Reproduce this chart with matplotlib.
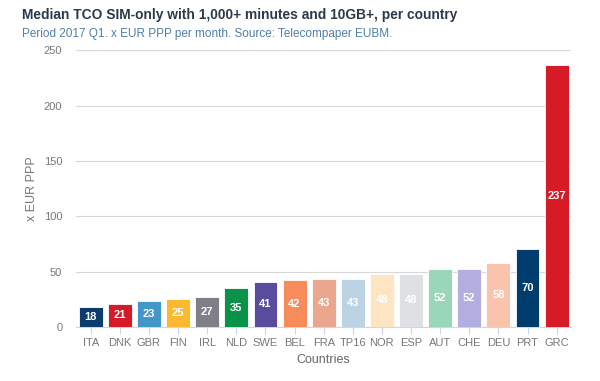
import numpy as np
import matplotlib.pyplot as plt

plt.rcParams['font.family'] = ['Liberation Sans', 'DejaVu Sans']

countries = ["ITA", "DNK", "GBR", "FIN", "IRL", "NLD", "SWE", "BEL", "FRA",
             "TP16", "NOR", "ESP", "AUT", "CHE", "DEU", "PRT", "GRC"]
values = [18, 21, 23, 25, 27, 35, 41, 42, 43, 43, 48, 48, 52, 52, 58, 70, 237]
colors = ["#0b3c6e", "#d71a28", "#4596c8", "#fbb931", "#7f7f88", "#0a9248",
          "#5a4c9c", "#f68b5c", "#eba68f", "#bcd3e6", "#fde5c3", "#dfe0e4",
          "#9ad6b8", "#b3aee0", "#fac3ac", "#003c6e", "#d61b27"]
yticks = [0, 50, 100, 150, 200, 250]

fig = plt.figure(figsize=(6, 3.81), dpi=100)
ax = fig.add_axes([0.127, 0.142, 0.825, 0.726])

x = np.arange(len(countries))
ax.bar(x, values, width=0.82, color=colors, edgecolor="white",
       linewidth=0.6, zorder=3)
for xi, v in zip(x, values):
    ax.text(xi, v / 2, str(v), ha="center", va="center", color="white",
            fontsize=8, fontweight="bold", zorder=4)

ax.set_xlim(-0.5, len(countries) - 0.5)
ax.set_ylim(0, 250)
ax.set_yticks(yticks)
ax.set_xticks(x)
ax.set_xticklabels(countries)
ax.grid(axis="y", color="#d8d8d8", linewidth=0.8, zorder=0)
for s in ["top", "right", "left"]:
    ax.spines[s].set_visible(False)
ax.spines["bottom"].set_color("#ccd6eb")
ax.tick_params(axis="y", length=0, labelsize=8, labelcolor="#777777", pad=10)
ax.tick_params(axis="x", length=5, color="#ccd6eb", labelsize=8,
               labelcolor="#777777", pad=3)
ax.set_ylabel("x EUR PPP", fontsize=9, color="#777777", labelpad=4)
ax.set_xlabel("Countries", fontsize=9, color="#666666", labelpad=4)

fig.text(0.037, 0.96, "Median TCO SIM-only with 1,000+ minutes and 10GB+, per country",
         fontsize=9.9, fontweight="bold", color="#2b3a4a", va="center")
fig.text(0.037, 0.912, "Period 2017 Q1. x EUR PPP per month. Source: Telecompaper EUBM.",
         fontsize=8.5, color="#4d7fa8", va="center")

fig.savefig("out.png", dpi=100)
